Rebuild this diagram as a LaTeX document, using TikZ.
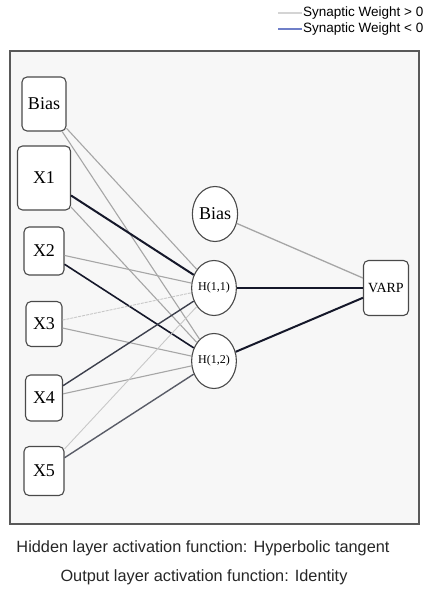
\documentclass[tikz,border=0pt]{standalone}
\usepackage{fontspec}
\setmainfont{Liberation Serif}
\newfontfamily\legendfont{Liberation Sans}
\usetikzlibrary{shapes.geometric}
\definecolor{pos}{HTML}{A6A6A6}
\definecolor{poslight}{HTML}{C8C8C8}
\definecolor{negc}{HTML}{15182A}
\definecolor{negmid}{HTML}{3C3F4C}
\definecolor{framefill}{HTML}{F7F7F7}
\definecolor{nodeborder}{HTML}{4A4A4A}
\definecolor{legblue}{HTML}{6F7FC8}
\definecolor{leggray}{HTML}{D4D4D4}
\tikzset{
  inbox/.style={draw=nodeborder, line width=1.1pt, fill=white, rounded corners=5pt, inner sep=0pt,
    font=\fontsize{18}{18}\selectfont},
  hid/.style={draw=nodeborder, line width=1.1pt, fill=white, ellipse, inner sep=0pt,
    minimum width=42pt, minimum height=55pt},
  wpos/.style={draw=pos, line width=1.1pt},
  wposl/.style={draw=poslight, line width=0.9pt},
  wneg/.style={draw=negc, line width=2pt},
  wnegm/.style={draw=negmid, line width=1.4pt},
  legtext/.style={font=\legendfont\fontsize{13.5}{14}\selectfont, inner sep=0pt},
  foot/.style={font=\legendfont\fontsize{16.3}{16}\selectfont, inner sep=0pt, text=black!85}
}
\begin{document}
\begin{tikzpicture}[x=1pt,y=-1pt]
\useasboundingbox (0,0) rectangle (427,593);
% legend
\coordinate (l1a) at (278,13); \coordinate (l1b) at (302,13);
\coordinate (l2a) at (278,29); \coordinate (l2b) at (302,29);
\draw[leggray, line width=1.2pt] (l1a) -- (l1b);
\draw[legblue, line width=1.2pt] (l2a) -- (l2b);
\node[legtext, anchor=west] (leg1) at (303,13) {Synaptic Weight > 0};
\node[legtext, anchor=west] (leg2) at (303,29) {Synaptic Weight < 0};
% frame
\draw[fill=framefill, draw=black!65, line width=1.2pt] (10,51) rectangle (419,524);
% input nodes
\node[inbox, minimum width=44pt, minimum height=54pt] (b0) at (44,104) {Bias};
\node[inbox, minimum width=53pt, minimum height=64pt] (x1) at (44,178) {X1};
\node[inbox, minimum width=40pt, minimum height=48pt] (x2) at (44,251) {X2};
\node[inbox, minimum width=36pt, minimum height=45pt] (x3) at (44,324) {X3};
\node[inbox, minimum width=37pt, minimum height=46pt] (x4) at (44,398) {X4};
\node[inbox, minimum width=40pt, minimum height=49pt] (x5) at (44,471) {X5};
% hidden
\node[hid, minimum width=44pt, font=\fontsize{18}{18}\selectfont] (b1) at (215,214) {Bias};
\node[hid, font=\fontsize{12}{12}\selectfont] (h1) at (214,288) {H(1,1)};
\node[hid, font=\fontsize{12}{12}\selectfont] (h2) at (214,361) {H(1,2)};
% output
\node[inbox, minimum width=45pt, minimum height=55pt, font=\fontsize{14}{14}\selectfont] (y) at (386,288) {VARP};
% edges
\draw[wpos] (b0) -- (h1);
\draw[wpos] (b0) -- (h2);
\draw[wneg] (x1) -- (h1);
\draw[wpos] (x1) -- (h2);
\draw[wpos] (x2) -- (h1);
\draw[wneg, line width=1.6pt] (x2) -- (h2);
\draw[wposl, dashed, dash pattern=on 3pt off 1pt] (x3) -- (h1);
\draw[wpos] (x3) -- (h2);
\draw[wnegm] (x4) -- (h1);
\draw[wpos] (x4) -- (h2);
\draw[wposl] (x5) -- (h1);
\draw[wnegm, draw=negmid!85] (x5) -- (h2);
\draw[wpos, line width=1.3pt] (b1) -- (y);
\draw[wneg] (h1) -- (y);
\draw[wneg] (h2) -- (y);
% footer
\node[foot] (f1) at (203,548) {Hidden layer activation function: Hyperbolic tangent};
\node[foot] (f2) at (204,577) {Output layer activation function: Identity};
\end{tikzpicture}
\end{document}
